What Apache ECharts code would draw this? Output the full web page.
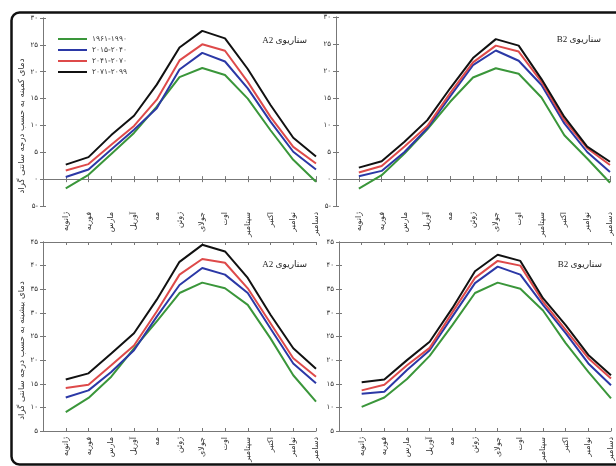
<!DOCTYPE html>
<html>
<head>
<meta charset="utf-8">
<script src="https://cdn.jsdelivr.net/npm/echarts@6/dist/echarts.min.js"></script>
<style>
  html, body { margin: 0; padding: 0; background: #fff; }
  #chart { width: 616px; height: 466px; }
</style>
</head>
<body>
<div id="chart"></div>
<script>
// months (x categories)
var months = ["ژانویه", "فوریه", "مارس", "آوریل", "مه", "ژوئن", "جولای", "اوت", "سپتامبر", "اکتبر", "نوامبر", "دسامبر"];
var periods = ["۱۹۶۱-۱۹۹۰", "۲۰۱۵-۲۰۴۰", "۲۰۴۱-۲۰۷۰", "۲۰۷۱-۲۰۹۹"];
var panelLabels = ["A2 سناریوی", "B2 سناریوی", "A2 سناریوی", "B2 سناریوی"];
var minTitle = "دمای کمینه به حسب درجه سانتی گراد";
var maxTitle = "دمای بیشینه به حسب درجه سانتی گراد";

// minimum temperature, scenario A2
var minA2Base = [-1.7, 0.8, 4.7, 8.6, 13.5, 19.0, 20.7, 19.4, 15.0, 9.1, 3.6, -0.5];
var minA2P1 = [0.4, 1.8, 5.5, 9.2, 13.2, 20.4, 23.5, 21.9, 16.9, 10.7, 5.1, 1.8];
var minA2P2 = [1.6, 2.8, 6.4, 9.9, 14.8, 22.1, 25.1, 23.9, 18.1, 11.6, 6.0, 2.9];
var minA2P3 = [2.7, 4.1, 8.2, 11.8, 17.6, 24.5, 27.6, 26.2, 20.5, 13.8, 7.7, 4.2];

// minimum temperature, scenario B2
var minB2Base = [-1.8, 0.7, 4.7, 9.2, 14.3, 18.8, 20.5, 19.5, 15.1, 8.1, 3.8, -0.7];
var minB2P1 = [0.5, 1.5, 5.0, 9.4, 15.3, 21.1, 23.8, 21.9, 17.4, 10.3, 5.0, 1.3];
var minB2P2 = [1.2, 2.4, 6.0, 9.8, 15.9, 21.6, 24.7, 23.6, 18.0, 10.9, 5.7, 2.6];
var minB2P3 = [2.1, 3.3, 6.9, 10.9, 16.8, 22.4, 25.9, 24.7, 18.5, 11.5, 6.0, 3.2];

// maximum temperature, scenario A2
var maxA2Base = [9.0, 12.0, 16.5, 22.5, 28.2, 34.2, 36.4, 35.2, 31.7, 24.6, 16.8, 11.2];
var maxA2P1 = [12.1, 13.6, 17.5, 22.1, 29.2, 35.9, 39.5, 38.1, 34.2, 26.7, 19.3, 15.1];
var maxA2P2 = [14.1, 14.8, 18.9, 23.1, 30.3, 38.1, 41.4, 40.6, 35.2, 27.8, 20.4, 16.5];
var maxA2P3 = [15.9, 17.2, 21.4, 25.7, 32.8, 40.8, 44.4, 43.0, 37.4, 29.6, 22.5, 18.2];

// maximum temperature, scenario B2
var maxB2Base = [10.1, 12.1, 16.0, 20.9, 27.4, 34.2, 36.4, 35.1, 30.5, 23.6, 17.5, 11.9];
var maxB2P1 = [12.9, 13.3, 17.9, 22.1, 29.2, 36.3, 39.8, 38.1, 31.7, 25.7, 19.3, 14.7];
var maxB2P2 = [13.6, 14.8, 18.9, 22.6, 30.1, 37.4, 41.0, 40.0, 32.4, 26.4, 20.4, 16.1];
var maxB2P3 = [15.3, 15.9, 20.0, 23.9, 31.0, 38.8, 42.3, 41.0, 33.1, 27.4, 21.1, 16.8];

var panels = [
  [minA2Base, minA2P1, minA2P2, minA2P3],
  [minB2Base, minB2P1, minB2P2, minB2P3],
  [maxA2Base, maxA2P1, maxA2P2, maxA2P3],
  [maxB2Base, maxB2P1, maxB2P2, maxB2P3]
];
var colors = ["#3a963a", "#2b38a6", "#de4a4a", "#111111"];
var faFont = "'DejaVu Sans', sans-serif";

var grids = [
  { left: 43, top: 18, width: 273, height: 188 },
  { left: 336, top: 17, width: 274, height: 189 },
  { left: 43, top: 242, width: 273, height: 189 },
  { left: 339, top: 242, width: 272, height: 189 }
];
var yRange = [[-5, 30], [-5, 30], [5, 45], [5, 45]];

function toFa(v) {
  var s = String(Math.abs(v)).replace(/[0-9]/g, function (d) {
    return "۰۱۲۳۴۵۶۷۸۹"[+d];
  });
  return v < 0 ? s + "-" : s;
}

var xAxes = [], yAxes = [], series = [], titles = [];
grids.forEach(function (g, i) {
  var axLine = { show: true, lineStyle: { color: "#777", width: 1 } };
  var tick = { show: true, inside: true, length: 3, lineStyle: { color: "#777" } };
  xAxes.push({
    type: "value", gridIndex: i, min: 0, max: 12, interval: 1,
    axisLine: axLine, axisTick: tick, splitLine: { show: false },
    axisLabel: {
      rotate: 90, fontSize: 8, margin: 6, color: "#333", fontFamily: faFont,
      formatter: function (v) { return months[v - 1] || ""; }
    }
  });
  yAxes.push({
    type: "value", gridIndex: i, min: yRange[i][0], max: yRange[i][1], interval: 5,
    axisLine: axLine, axisTick: tick, splitLine: { show: false },
    axisLabel: { fontSize: 7, margin: 5, color: "#333", fontFamily: faFont, formatter: toFa },
    name: i === 0 ? minTitle : (i === 2 ? maxTitle : ""),
    nameLocation: "middle", nameRotate: 90, nameGap: 16,
    nameTextStyle: { fontSize: 8.5, color: "#333", fontFamily: faFont, padding: [0, 28, 0, 0] }
  });
  titles.push({
    text: panelLabels[i],
    right: 616 - (g.left + g.width) + 4, top: g.top + 13,
    textStyle: { fontSize: 9, fontWeight: "normal", color: "#222", fontFamily: "'Liberation Serif', 'DejaVu Sans', serif" }
  });
  panels[i].forEach(function (vals, k) {
    series.push({
      name: periods[k], type: "line", xAxisIndex: i, yAxisIndex: i,
      data: vals.map(function (v, m) { return [m + 1, v]; }),
      showSymbol: false, symbol: "none",
      lineStyle: { color: colors[k], width: 2 },
      itemStyle: { color: colors[k] },
      z: 2 + k
    });
  });
});
// mirrored ticks on top and right edges
grids.forEach(function (g, i) {
  var axLine = { show: true, lineStyle: { color: "#777", width: 1 } };
  var tick = { show: true, inside: true, length: 3, lineStyle: { color: "#777" } };
  xAxes.push({
    type: "value", gridIndex: i, position: "top", min: 0, max: 12, interval: 1,
    axisLine: axLine, axisTick: tick, axisLabel: { show: false }, splitLine: { show: false }
  });
  yAxes.push({
    type: "value", gridIndex: i, position: "right", min: yRange[i][0], max: yRange[i][1], interval: 5,
    axisLine: axLine, axisTick: tick, axisLabel: { show: false }, splitLine: { show: false }
  });
});

var chart = echarts.init(document.getElementById("chart"), null, { renderer: "canvas" });
chart.setOption({
  animation: false,
  backgroundColor: "#fff",
  title: titles,
  grid: grids,
  xAxis: xAxes,
  yAxis: yAxes,
  legend: {
    orient: "vertical", left: 53, top: 30,
    itemWidth: 29, itemHeight: 2, itemGap: 3,
    icon: "rect",
    data: periods,
    textStyle: { fontSize: 7.5, color: "#333", fontFamily: faFont }
  },
  graphic: [{
    type: "rect", z: 100, silent: true, left: 9, top: 10,
    shape: { width: 700, height: 452, r: 8 },
    style: { fill: "none", stroke: "#111", lineWidth: 2.5 }
  }],
  series: series
});
</script>
</body>
</html>
